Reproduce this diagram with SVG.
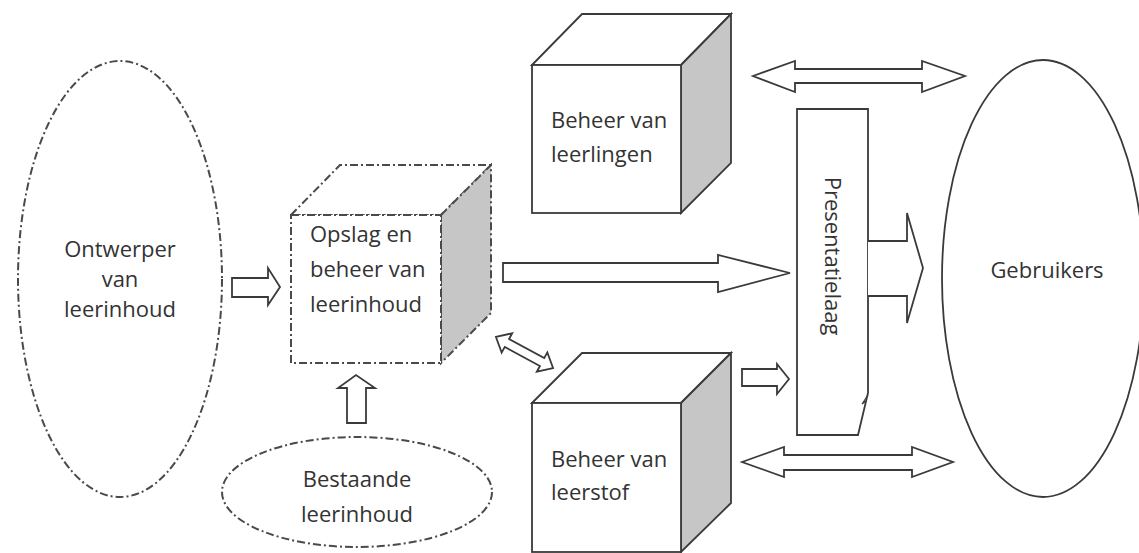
<svg xmlns="http://www.w3.org/2000/svg" width="1139" height="553" viewBox="0 0 1139 553">
<style>
.t{font-family:"Open Sans","Liberation Sans",sans-serif;font-size:22px;fill:#333}
.dd{fill:none;stroke:#4a4a4a;stroke-width:2;stroke-dasharray:8 3 2 3}
.ddf{fill:#fff;stroke:#4a4a4a;stroke-width:2;stroke-dasharray:8 3 2 3}
.ddg{fill:#c6c6c6;stroke:#4a4a4a;stroke-width:2;stroke-dasharray:8 3 2 3}
.s{fill:#fff;stroke:#3a3a3a;stroke-width:1.8;stroke-linejoin:miter}
.g{fill:#c6c6c6;stroke:#3a3a3a;stroke-width:1.8}
.a{fill:#fff;stroke:#3a3a3a;stroke-width:1.8;stroke-linejoin:miter}
</style>
<rect width="1139" height="553" fill="#fff"/>

<g id="ontwerper">
<ellipse cx="120" cy="279" rx="102" ry="218" class="dd"/>
<text class="t" text-anchor="middle"><tspan x="120" y="257">Ontwerper</tspan><tspan x="120" y="287">van</tspan><tspan x="120" y="317">leerinhoud</tspan></text>
</g>

<g id="opslag">
<polygon points="291,215 340,165 491,165 441,215" class="ddf"/>
<polygon points="441,215 491,165 491,313 441,363" class="ddg"/>
<rect x="291" y="215" width="150" height="148" class="ddf"/>
<text class="t"><tspan x="310" y="242">Opslag en</tspan><tspan x="310" y="277">beheer van</tspan><tspan x="310" y="312">leerinhoud</tspan></text>
</g>

<g id="bestaande">
<ellipse cx="357" cy="492" rx="135" ry="55" class="dd"/>
<text class="t" text-anchor="middle"><tspan x="357" y="487">Bestaande</tspan><tspan x="357" y="522">leerinhoud</tspan></text>
</g>

<g id="leerlingen">
<polygon points="532,65 582,14 731,14 681,65" class="s"/>
<polygon points="681,65 731,14 731,163 681,213" class="g"/>
<rect x="532" y="65" width="149" height="148" class="s"/>
<text class="t"><tspan x="551" y="128">Beheer van</tspan><tspan x="551" y="162">leerlingen</tspan></text>
</g>

<g id="leerstof">
<polygon points="532,403 582,353 731,353 681,403" class="s"/>
<polygon points="681,403 731,353 731,503 681,552" class="g"/>
<rect x="532" y="403" width="149" height="149" class="s"/>
<text class="t"><tspan x="551" y="467">Beheer van</tspan><tspan x="551" y="500">leerstof</tspan></text>
</g>

<g id="presentatielaag">
<path d="M797,109 H868 V393 L858,435 H797 Z" class="s"/>
<path d="M868,395 L862,404 L866,401" fill="none" stroke="#3a3a3a" stroke-width="1.2"/>
<text class="t" text-anchor="middle" transform="translate(825,256) rotate(90)">Presentatielaag</text>
</g>

<g id="gebruikers">
<ellipse cx="1043" cy="278.5" rx="101" ry="218.5" fill="none" stroke="#3a3a3a" stroke-width="1.8"/>
<text class="t" text-anchor="middle" x="1047" y="278">Gebruikers</text>
</g>

<g id="connectors">
<polygon points="232,278 268,278 268,268 280,287 268,305 268,297 232,297" class="a"/>
<polygon points="347,423 347,388 338,388 356,375 375,388 366,388 366,423" class="a"/>
<polygon points="503,263 718,263 718,255 790,273 718,292 718,282 503,282" class="a"/>
<polygon points="742,369 777,369 777,364 789,379 777,394 777,386 742,386" class="a"/>
<polygon points="-32.5,0 -20,-11 -20,-4.5 20,-4.5 20,-11 32.5,0 20,11 20,4.5 -20,4.5 -20,11" class="a" transform="translate(524.5,352.5) rotate(28.5)"/>
<path d="M868,241 H907 V213 L923,268 L907,323 V296 H868" class="a"/>
<polygon points="753,76 795,61 795,69 922,69 922,61 965,76 922,92 922,83 795,83 795,92" class="a"/>
<polygon points="742,462 784,447 784,455 912,455 912,447 953,462 912,477 912,470 784,470 784,477" class="a"/>
</g>
</svg>
